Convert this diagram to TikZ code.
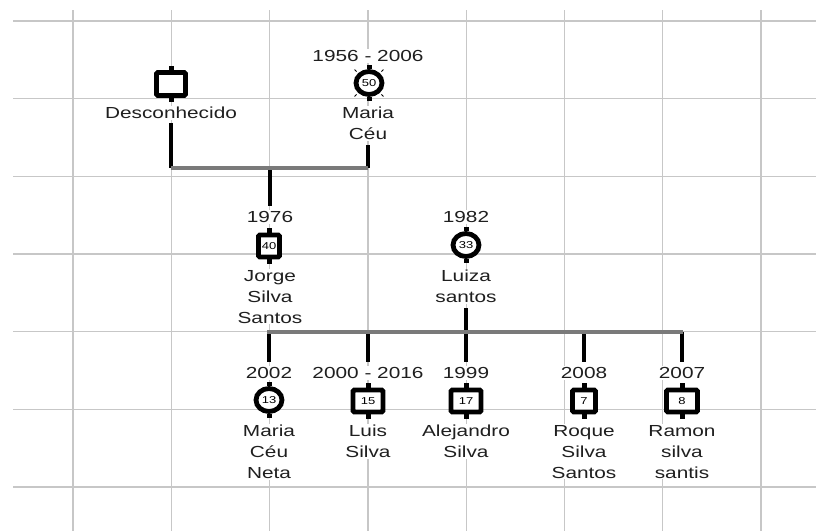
\documentclass[tikz,border=0pt]{standalone}
\usepackage{fontspec}
\setmainfont{Liberation Sans}[FakeStretch=1.3]
\usetikzlibrary{shapes.geometric}
\begin{document}
\begin{tikzpicture}[x=1pt,y=-1pt,
  gridline/.style={draw=black!22, line width=1.3pt},
  male/.style={draw=black, line width=4.8pt, fill=white, rectangle, rounded corners=1.2pt, minimum width=#1, minimum height=22pt, inner sep=0pt, font=\fontsize{10}{10}\selectfont},
  male/.default=30pt,
  female/.style={draw=black, line width=4.8pt, fill=white, ellipse, minimum width=26pt, minimum height=23pt, inner sep=0pt, font=\fontsize{10}{10}\selectfont},
  lbl/.style={fill=white, inner sep=1pt, align=center, font=\fontsize{16}{21}\selectfont, text=black!88, anchor=north},
  link/.style={draw=black, line width=4.5pt},
  couple/.style={draw=black!52, line width=4pt},
  tick/.style={draw=black, line width=0.9pt}
]
\useasboundingbox (0,0) rectangle (816,531);
\fill[white] (0,0) rectangle (816,531);
% grid
\foreach \gx in {73,171.3,269.6,367.9,466.2,564.5,662.7,761}
  \draw[gridline] (\gx,10) -- (\gx,531);
\foreach \gy in {21,98.7,176.3,254,331.7,409.3,487}
  \draw[gridline] (13,\gy) -- (816,\gy);

% generation 1
\node[male=29pt, minimum height=23pt] (sD) at (171,84) {};
\node[lbl] (tD) at (171,106) {Desconhecido};
\node[lbl] (yM) at (368,49) {1956 - 2006};
\node[female] (sM) at (369,83) {50};
\node[lbl] (tM) at (368,106) {Maria\\Céu};

% generation 2
\node[lbl] (yJ) at (270,210) {1976};
\node[male=21pt] (sJ) at (269,246) {40};
\node[lbl] (tJ) at (270,269) {Jorge\\Silva\\Santos};
\node[lbl] (yL) at (466,210) {1982};
\node[female] (sL) at (466,245) {33};
\node[lbl] (tL) at (466,269) {Luiza\\santos};

% generation 3
\node[lbl] (y1) at (269,366) {2002};
\node[female] (s1) at (269,400) {13};
\node[lbl] (t1) at (269,424) {Maria\\Céu\\Neta};
\node[lbl] (y2) at (368,366) {2000 - 2016};
\node[male=30pt] (s2) at (368,401) {15};
\node[lbl] (t2) at (368,424) {Luis\\Silva};
\node[lbl] (y3) at (466,366) {1999};
\node[male=30pt] (s3) at (466,401) {17};
\node[lbl] (t3) at (466,424) {Alejandro\\Silva};
\node[lbl] (y4) at (584,366) {2008};
\node[male=23pt] (s4) at (584,401) {7};
\node[lbl] (t4) at (584,424) {Roque\\Silva\\Santos};
\node[lbl] (y5) at (682,366) {2007};
\node[male=31pt] (s5) at (682,401) {8};
\node[lbl] (t5) at (682,424) {Ramon\\silva\\santis};

% stubs on symbols
\foreach \s in {sD,sM,sJ,sL,s1,s2,s3,s4,s5}{
  \fill[black] ([xshift=-2.5pt]\s.north) rectangle ++(5,-4.5);
  \fill[black] ([xshift=-2.5pt]\s.south) rectangle ++(5,4.5);
}
% deceased marks
\foreach \a/\dx/\dy in {north east/1/-1, north west/-1/-1, south east/1/1, south west/-1/1}
  \draw[tick] ([shift={(1.6*\dx,1.6*\dy)}]sM.\a) -- ++(2*\dx,2*\dy);
\foreach \a/\dx/\dy in {north east/-1/1, north west/1/1, south east/-1/-1, south west/1/-1}
  \fill[black] ([shift={(4.3*\dx,4.3*\dy)}]s2.\a) circle (0.8);

% couple 1
\coordinate (pL) at (171,168);
\coordinate (pR) at (368,168);
\coordinate (pC) at (270,168);
\draw[link] ([yshift=-3pt]tD.south) -- (pL);
\draw[link] ([yshift=-4pt]tM.south) -- (pR);
\draw[link] (pC) -- ([yshift=4pt]yJ.north);
\draw[couple] (pL) -- (pR);

% couple 2
\coordinate (qL) at (267,332);
\coordinate (qR) at (683,332);
\coordinate (qLu) at (466,332);
\coordinate (q1) at (269,332);
\coordinate (q2) at (368,332);
\coordinate (q4) at (584,332);
\coordinate (q5) at (682,332);
\draw[link] ([yshift=-4pt]tL.south) -- (qLu);
\draw[link] (q1) -- ([yshift=4pt]y1.north);
\draw[link] (q2) -- ([yshift=4pt]y2.north);
\draw[link] (qLu) -- ([yshift=4pt]y3.north);
\draw[link] (q4) -- ([yshift=4pt]y4.north);
\draw[link] (q5) -- ([yshift=4pt]y5.north);
\draw[couple] (qL) -- (qR);
\end{tikzpicture}
\end{document}
